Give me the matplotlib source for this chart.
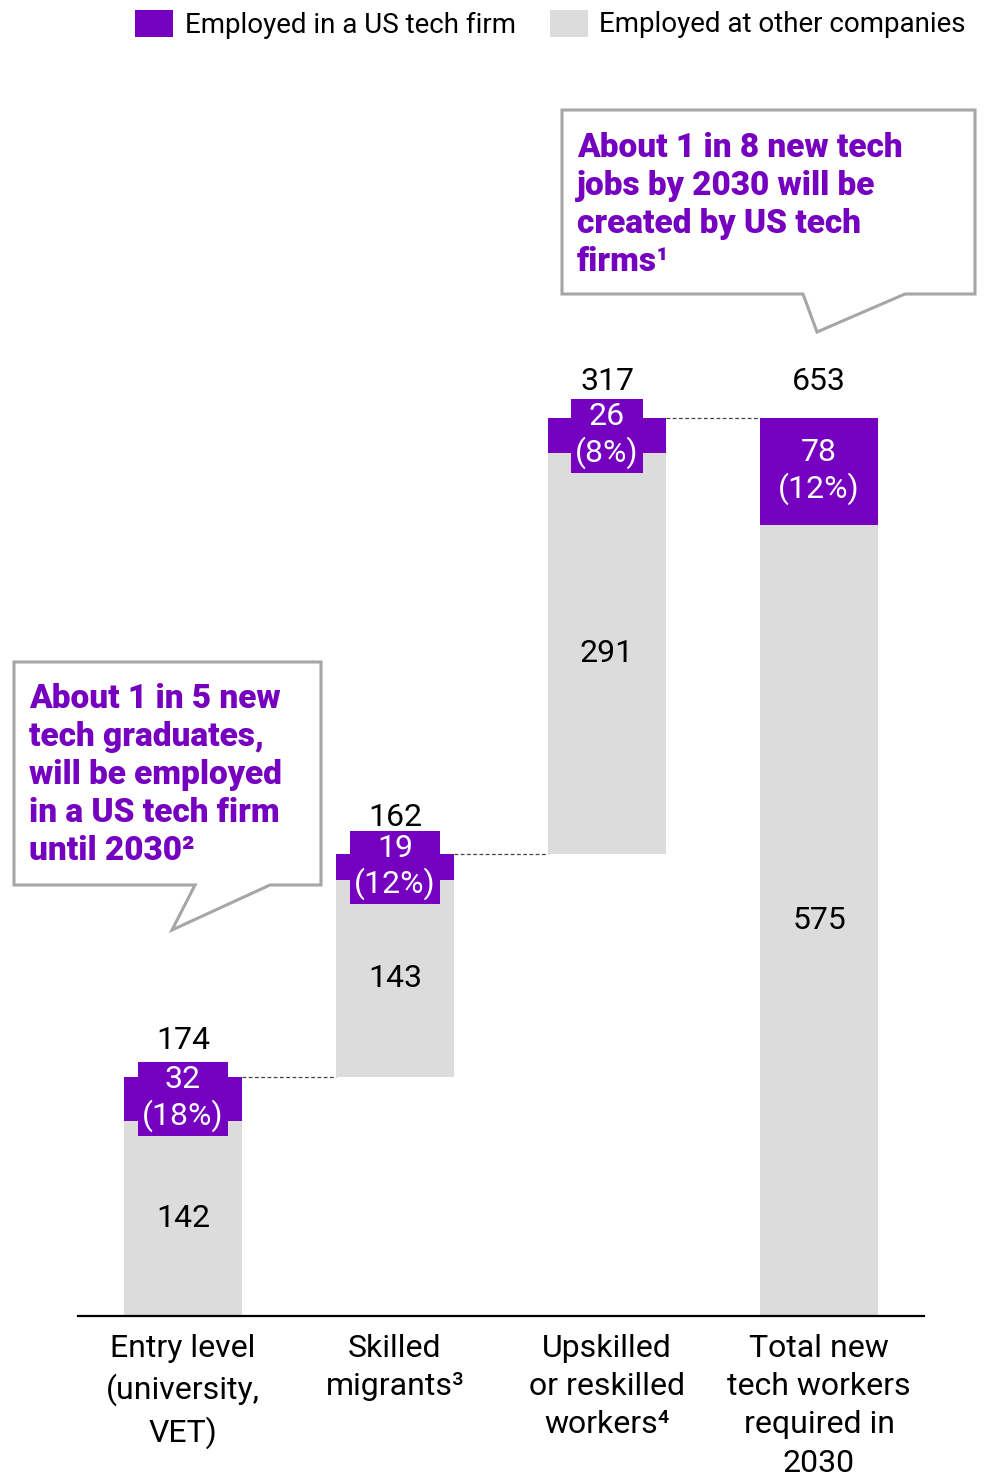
import matplotlib.pyplot as plt
from matplotlib.patches import Polygon, Rectangle

# --- Data ---
categories = ["Entry level\n(university,\nVET)", "Skilled\nmigrants³",
              "Upskilled\nor reskilled\nworkers⁴", "Total new\ntech workers\nrequired in\n2030"]
other_cos = [142, 143, 291, 575]     # employed at other companies
us_tech = [32, 19, 26, 78]           # employed in a US tech firm
is_total = [False, False, False, True]

PURPLE = "#7500C0"
GREY = "#DCDCDC"
BORDER = "#A6A6A6"

plt.rcParams['font.family'] = ['Roboto', 'DejaVu Sans']

W, H = 996, 1476
fig = plt.figure(figsize=(W / 100, H / 100), dpi=100)


def fx(px):
    return px / W


def fy(py):
    return 1 - py / H


# axes: baseline at 1316 px, x from 78 to 924 px
ax = fig.add_axes([fx(78), fy(1316), (924 - 78) / W, (1316 - 60) / H])
ax.set_xlim(-0.495, 3.495)
ax.set_ylim(0, 913)
width = 0.557

# waterfall bases
bases = []
running = 0
for o, u, t in zip(other_cos, us_tech, is_total):
    bases.append(0 if t else running)
    if not t:
        running += o + u

xs = list(range(len(categories)))
for x, b, o, u in zip(xs, bases, other_cos, us_tech):
    total = o + u
    ax.bar(x, o, width, bottom=b, color=GREY, linewidth=0)
    ax.bar(x, u, width, bottom=b + o, color=PURPLE, linewidth=0)
    ax.text(x, b + o / 2, str(o), ha='center', va='center', fontsize=23, color='black')
    ax.text(x, b + o + u / 2, f"{u}\n({round(100 * u / total)}%)", ha='center', va='center',
            fontsize=23, color='white', linespacing=1.2,
            bbox=dict(boxstyle='square,pad=0.13', facecolor=PURPLE, edgecolor='none'))
    ax.annotate(str(total), (x, b + total), xytext=(0, 26), textcoords='offset points',
                ha='center', va='center', fontsize=23, color='black')

# connector lines between bar tops
for i in range(len(xs) - 1):
    top = bases[i] + other_cos[i] + us_tech[i]
    ax.plot([xs[i] + width / 2, xs[i + 1] - width / 2], [top, top],
            color='#444444', lw=0.9, ls=(0, (3, 2)))

for s in ['top', 'right', 'left']:
    ax.spines[s].set_visible(False)
ax.spines['bottom'].set_linewidth(1.6)
ax.spines['bottom'].set_color('black')
ax.set_yticks([])
ax.set_xticks(xs)
ax.set_xticklabels(categories, fontsize=23, linespacing=1.4)
ax.tick_params(axis='x', length=0, pad=13)

# legend
fig.patches.append(Rectangle((fx(135), fy(37)), fx(38), 27 / H, transform=fig.transFigure,
                             facecolor=PURPLE, edgecolor='none'))
fig.text(fx(185), fy(25), "Employed in a US tech firm", fontsize=20, va='center', ha='left')
fig.patches.append(Rectangle((fx(550), fy(37)), fx(38), 27 / H, transform=fig.transFigure,
                             facecolor=GREY, edgecolor='none'))
fig.text(fx(599), fy(25), "Employed at other companies", fontsize=20, va='center', ha='left')

# speech-bubble callouts
left_bubble = [(14, 662), (321, 662), (321, 885), (270, 885), (172, 930), (195, 885), (14, 885)]
right_bubble = [(562, 110), (975, 110), (975, 294), (905, 294), (817, 332), (803, 294), (562, 294)]
for pts in (left_bubble, right_bubble):
    fig.patches.append(Polygon([(fx(a), fy(b)) for a, b in pts], closed=True,
                               transform=fig.transFigure, facecolor='white',
                               edgecolor=BORDER, linewidth=2.2))

fig.text(fx(29), fy(683), "About 1 in 5 new\ntech graduates,\nwill be employed\nin a US tech firm\nuntil 2030²",
         fontsize=24, fontweight='black', color=PURPLE,
         va='top', ha='left', linespacing=1.24)
fig.text(fx(577), fy(132), "About 1 in 8 new tech\njobs by 2030 will be\ncreated by US tech\nfirms¹",
         fontsize=24, fontweight='black', color=PURPLE,
         va='top', ha='left', linespacing=1.24)

fig.savefig("out.png", dpi=100)
